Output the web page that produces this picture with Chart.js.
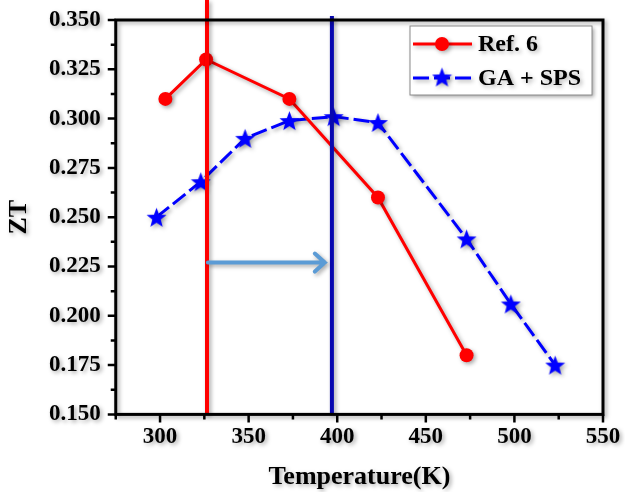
<!DOCTYPE html>
<html>
<head>
<meta charset="utf-8">
<script src="https://cdn.jsdelivr.net/npm/chart.js@4.4.1/dist/chart.umd.min.js"></script>
<style>
  html, body { margin: 0; padding: 0; background: #fff; }
  #wrap { width: 625px; height: 492px; }
</style>
</head>
<body>
<div id="wrap"><canvas id="ztChart" width="625" height="492"></canvas></div>
<script>
// data
const refTemps = [303, 326, 373, 423, 473];
const refZT = [0.310, 0.330, 0.310, 0.260, 0.180];
const gaTemps = [298, 323, 348, 373, 398, 423, 473, 498, 523];
const gaZT = [0.250, 0.268, 0.290, 0.299, 0.301, 0.298, 0.239, 0.206, 0.175];
const seriesLabels = ['Ref. 6', 'GA + SPS'];
const peakLines = [326.5, 397];     // vertical markers (K)
const arrowFrom = [327, 0.227];     // [K, ZT]
const arrowTo = [393, 0.227];

const FONT = "'Liberation Serif', 'Times New Roman', serif";

// filled five point star for the GA + SPS markers
function makeStar(size, color) {
  const c = document.createElement('canvas');
  c.width = size; c.height = size;
  const g = c.getContext('2d');
  const cx = size / 2, cy = size / 2 + 1, ro = size / 2, ri = ro * 0.42;
  g.beginPath();
  for (let i = 0; i < 10; i++) {
    const r = i % 2 ? ri : ro;
    const a = -Math.PI / 2 + i * Math.PI / 5;
    g.lineTo(cx + r * Math.cos(a), cy + r * Math.sin(a));
  }
  g.closePath();
  g.fillStyle = color;
  g.fill();
  return c;
}
const starImg = makeStar(21, '#0000ff');

const shadowPlugin = {
  id: 'shadow',
  beforeDraw(chart) {
    const ctx = chart.ctx;
    ctx.shadowColor = 'rgba(0,0,0,0.35)';
    ctx.shadowBlur = 4;
    ctx.shadowOffsetX = 2;
    ctx.shadowOffsetY = 2;
  }
};

// frame, major/minor ticks, vertical markers, arrow and legend
const decorPlugin = {
  id: 'decor',
  afterDatasetsDraw(chart) {
    const ctx = chart.ctx;
    const a = chart.chartArea;
    const xs = chart.scales.x, ys = chart.scales.y;
    ctx.save();
    // vertical peak lines
    const lineCols = ['#ff0000', '#0808b0'];
    const tops = [0, a.top - 4];
    peakLines.forEach((t, i) => {
      const px = xs.getPixelForValue(t);
      ctx.strokeStyle = lineCols[i];
      ctx.lineWidth = 4;
      ctx.beginPath();
      ctx.moveTo(px, tops[i]);
      ctx.lineTo(px, a.bottom);
      ctx.stroke();
    });
    // arrow
    const x0 = xs.getPixelForValue(arrowFrom[0]), y0 = ys.getPixelForValue(arrowFrom[1]);
    const x1 = xs.getPixelForValue(arrowTo[0]), y1 = ys.getPixelForValue(arrowTo[1]);
    ctx.strokeStyle = '#5b9bd5';
    ctx.lineWidth = 4;
    ctx.lineCap = 'round';
    ctx.beginPath();
    ctx.moveTo(x0, y0); ctx.lineTo(x1, y1);
    ctx.moveTo(x1 - 10, y1 - 9); ctx.lineTo(x1, y1); ctx.lineTo(x1 - 10, y1 + 9);
    ctx.stroke();
    ctx.lineCap = 'butt';

    // frame
    ctx.strokeStyle = '#000';
    ctx.lineWidth = 3;
    ctx.strokeRect(a.left, a.top, a.right - a.left, a.bottom - a.top);
    ctx.shadowColor = 'transparent';
    ctx.lineWidth = 2.5;
    ctx.beginPath();
    xs.ticks.forEach(tk => {
      const px = xs.getPixelForValue(tk.value);
      const len = tk.value % 50 === 0 ? 8 : 5;
      ctx.moveTo(px, a.bottom); ctx.lineTo(px, a.bottom + len);
    });
    ys.ticks.forEach((tk, i) => {
      const py = ys.getPixelForValue(tk.value);
      const len = i % 2 === 0 ? 8 : 5;
      ctx.moveTo(a.left, py); ctx.lineTo(a.left - len, py);
    });
    ctx.stroke();
    ctx.restore();

    // legend
    ctx.save();
    ctx.shadowColor = 'rgba(0,0,0,0.35)';
    ctx.shadowBlur = 4;
    ctx.shadowOffsetX = 2;
    ctx.shadowOffsetY = 2;
    const bx = a.right - 193, by = a.top + 6, bw = 182, bh = 69;
    ctx.fillStyle = '#fff';
    ctx.fillRect(bx, by, bw, bh);
    ctx.shadowColor = 'transparent';
    ctx.strokeStyle = '#8a8a8a';
    ctx.lineWidth = 1;
    ctx.strokeRect(bx, by, bw, bh);
    ctx.shadowColor = 'rgba(0,0,0,0.3)';
    chart.data.datasets.forEach((ds, i) => {
      const ly = by + 18 + i * 34;
      ctx.strokeStyle = ds.borderColor;
      ctx.lineWidth = 3;
      ctx.setLineDash(ds.borderDash || []);
      ctx.beginPath();
      ctx.moveTo(bx + 3, ly); ctx.lineTo(bx + 62, ly);
      ctx.stroke();
      ctx.setLineDash([]);
      if (ds.pointStyle === 'circle') {
        ctx.fillStyle = ds.pointBackgroundColor;
        ctx.beginPath();
        ctx.arc(bx + 32, ly, 7, 0, Math.PI * 2);
        ctx.fill();
      } else {
        ctx.drawImage(starImg, bx + 32 - 10.5, ly - 11.5);
      }
      ctx.fillStyle = '#000';
      ctx.font = 'bold 24px ' + FONT;
      ctx.textBaseline = 'middle';
      ctx.fillText(ds.label, bx + 68, ly + 1);
    });
    ctx.restore();
  }
};

new Chart(document.getElementById('ztChart').getContext('2d'), {
  type: 'line',
  data: {
    datasets: [
      {
        label: seriesLabels[0],
        data: refTemps.map((t, i) => ({ x: t, y: refZT[i] })),
        borderColor: '#ff0000',
        borderWidth: 3,
        pointStyle: 'circle',
        pointRadius: 7,
        pointBackgroundColor: '#ff0000',
        pointBorderWidth: 0,
        tension: 0
      },
      {
        label: seriesLabels[1],
        data: gaTemps.map((t, i) => ({ x: t, y: gaZT[i] })),
        borderColor: '#0000ff',
        borderWidth: 3,
        borderDash: [16, 5],
        pointStyle: starImg,
        pointRadius: 10,
        tension: 0
      }
    ]
  },
  options: {
    responsive: false,
    animation: false,
    events: [],
    layout: { padding: { top: 0, right: 0, left: 6, bottom: 2 } },
    plugins: { legend: { display: false }, tooltip: { enabled: false } },
    scales: {
      x: {
        type: 'linear',
        min: 275, max: 550,
        grid: { display: false, drawTicks: false },
        border: { display: false },
        afterFit: s => { s.paddingRight = 22; },
        ticks: {
          stepSize: 25,
          autoSkip: false,
          maxRotation: 0,
          padding: 9,
          color: '#000',
          font: { family: FONT, size: 23, weight: 'bold' },
          callback: v => (v % 50 === 0 ? v : '')
        },
        title: {
          display: true,
          text: 'Temperature(K)',
          color: '#000',
          padding: { top: 4, bottom: 0 },
          font: { family: FONT, size: 26, weight: 'bold', lineHeight: 1 }
        }
      },
      y: {
        min: 0.15, max: 0.35,
        grid: { display: false, drawTicks: false },
        border: { display: false },
        afterFit: s => { s.paddingTop = 20; },
        ticks: {
          stepSize: 0.0125,
          autoSkip: false,
          padding: 15,
          color: '#000',
          font: { family: FONT, size: 23, weight: 'bold' },
          callback: (v, i) => (i % 2 === 0 ? v.toFixed(3) : '')
        },
        title: {
          display: true,
          text: 'ZT',
          color: '#000',
          padding: { top: 0, bottom: 2 },
          font: { family: FONT, size: 26, weight: 'bold', lineHeight: 1 }
        }
      }
    }
  },
  plugins: [shadowPlugin, decorPlugin]
});
</script>
</body>
</html>
